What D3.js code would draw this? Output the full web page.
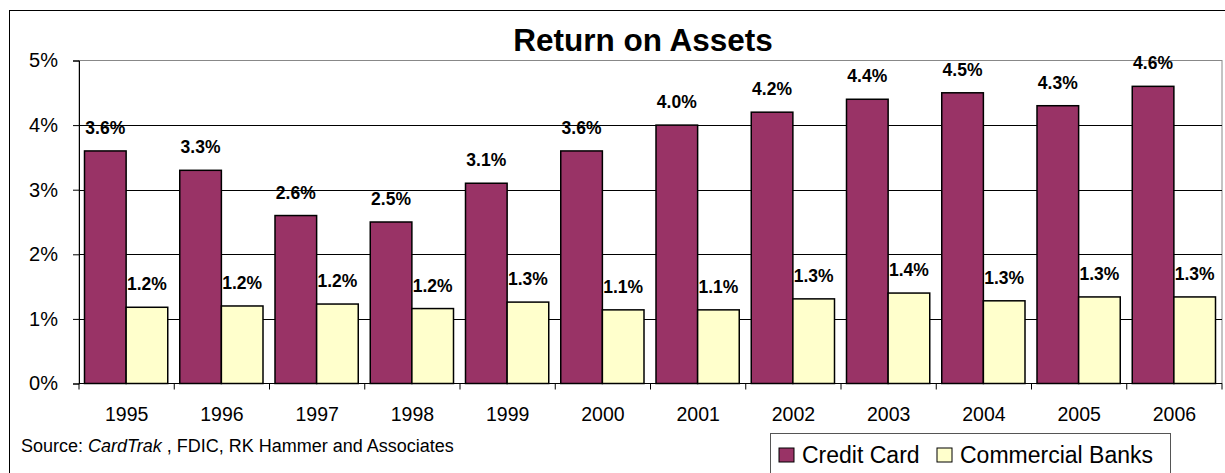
<!DOCTYPE html>
<html>
<head>
<meta charset="utf-8">
<script src="https://cdn.jsdelivr.net/npm/d3@7"></script>
<style>
  body { margin: 0; background: #fff; }
  text { font-family: Arial, "Liberation Sans", sans-serif; }
</style>
</head>
<body>
<div id="chart"></div>
<script>
// Data
const years = ["1995", "1996", "1997", "1998", "1999", "2000", "2001", "2002", "2003", "2004", "2005", "2006"];
const seriesNames = ["Credit Card", "Commercial Banks"];
const creditCard = [3.6, 3.3, 2.6, 2.5, 3.1, 3.6, 4.0, 4.2, 4.4, 4.5, 4.3, 4.6];
const commercialBanks = [1.18, 1.2, 1.23, 1.16, 1.26, 1.14, 1.14, 1.31, 1.4, 1.28, 1.34, 1.34];
const yTicks = [0, 1, 2, 3, 4, 5];
const colors = ["#993366", "#FFFFCC"];

const width = 1225, height = 473;
const margin = { top: 60.5, right: 3, bottom: 89.5, left: 79 };
const FONT = "Arial, 'Liberation Sans', sans-serif";

const svg = d3.select("#chart").append("svg")
  .attr("width", width)
  .attr("height", height);

// outer frame
svg.append("rect")
  .attr("x", 9.5).attr("y", 10.5)
  .attr("width", 1225).attr("height", 500)
  .attr("fill", "none").attr("stroke", "#000").attr("stroke-width", 1);

const x0 = d3.scaleBand().domain(years).range([margin.left, width - margin.right]);
const x1 = d3.scaleBand().domain(seriesNames).range([5.5, x0.bandwidth() - 6.5]);
const y = d3.scaleLinear().domain([0, 5]).range([height - margin.bottom, margin.top]);

// plot area border
svg.append("rect")
  .attr("x", margin.left).attr("y", y(5))
  .attr("width", width - margin.right - margin.left).attr("height", y(0) - y(5))
  .attr("fill", "none").attr("stroke", "#888").attr("stroke-width", 1);

// gridlines
svg.append("g").selectAll("line")
  .data(yTicks.filter(d => d > 0 && d < 5))
  .join("line")
  .attr("x1", margin.left).attr("x2", width - margin.right)
  .attr("y1", d => Math.round(y(d)) + 0.5).attr("y2", d => Math.round(y(d)) + 0.5)
  .attr("stroke", "#000").attr("stroke-width", 1);

// y axis
const yAxis = svg.append("g")
  .attr("transform", `translate(${margin.left},0)`)
  .call(d3.axisLeft(y).tickValues(yTicks).tickFormat(d => d + "%").tickSize(6).tickPadding(15));
yAxis.select(".domain").attr("stroke", "#000");
yAxis.selectAll("text").attr("font-size", 20).attr("fill", "#000").attr("font-family", FONT);

// x axis
const xAxis = svg.append("g")
  .attr("transform", `translate(0,${y(0)})`)
  .call(d3.axisBottom(x0).tickSize(0).tickPadding(24));
xAxis.select(".domain").remove();
xAxis.selectAll("text").attr("font-size", 19.5).attr("fill", "#000").attr("font-family", FONT);
xAxis.append("line")
  .attr("x1", margin.left).attr("x2", width - margin.right)
  .attr("stroke", "#000");
xAxis.selectAll(".cat-tick")
  .data(years.concat(["end"]))
  .join("line")
  .attr("class", "cat-tick")
  .attr("x1", (d, i) => i < years.length ? x0(d) : x0(years[years.length - 1]) + x0.bandwidth())
  .attr("x2", (d, i) => i < years.length ? x0(d) : x0(years[years.length - 1]) + x0.bandwidth())
  .attr("y1", 0).attr("y2", 6)
  .attr("stroke", "#000");

// bars
const rows = years.map((yr, i) => ({ year: yr, values: [creditCard[i], commercialBanks[i]] }));
const groups = svg.append("g").selectAll("g")
  .data(rows)
  .join("g")
  .attr("transform", d => `translate(${x0(d.year)},0)`);

groups.selectAll("rect")
  .data(d => d.values.map((v, k) => ({ key: seriesNames[k], value: v, k })))
  .join("rect")
  .attr("x", d => x1(d.key))
  .attr("y", d => y(d.value))
  .attr("width", x1.bandwidth())
  .attr("height", d => y(0) - y(d.value))
  .attr("fill", d => colors[d.k])
  .attr("stroke", "#000").attr("stroke-width", 1.5);

groups.selectAll("text.lbl")
  .data(d => d.values.map((v, k) => ({ key: seriesNames[k], value: v, k })))
  .join("text")
  .attr("class", "lbl")
  .attr("x", d => x1(d.key) + x1.bandwidth() / 2)
  .attr("y", d => y(d.value) - 17)
  .attr("text-anchor", "middle")
  .attr("font-size", 17.5).attr("font-weight", "bold")
  .text(d => d.value.toFixed(1) + "%");

// title
svg.append("text")
  .attr("x", 643).attr("y", 51)
  .attr("text-anchor", "middle")
  .attr("font-size", 31.5).attr("font-weight", "bold")
  .text("Return on Assets");

// source
const src = svg.append("text")
  .attr("x", 21).attr("y", 452)
  .attr("font-size", 18);
src.append("tspan").text("Source:  ");
src.append("tspan").attr("font-style", "italic").text("CardTrak");
src.append("tspan").text(" , FDIC, RK Hammer and Associates");

// legend
const legend = svg.append("g").attr("transform", "translate(770,433)");
legend.append("rect")
  .attr("x", 0.5).attr("y", 0.5).attr("width", 400).attr("height", 60)
  .attr("fill", "#fff").attr("stroke", "#555");
const legendX = [9, 167];
seriesNames.forEach((name, k) => {
  legend.append("rect")
    .attr("x", legendX[k]).attr("y", 15).attr("width", 15).attr("height", 14)
    .attr("fill", colors[k]).attr("stroke", "#000").attr("stroke-width", 1);
  legend.append("text")
    .attr("x", legendX[k] + 23).attr("y", 29.5)
    .attr("font-size", 23)
    .text(name);
});
</script>
</body>
</html>
